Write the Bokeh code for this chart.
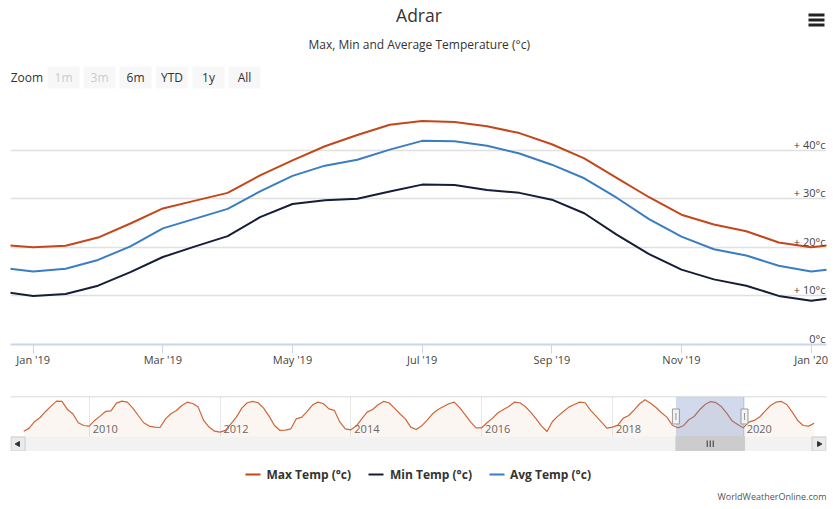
from math import pi
from bokeh.plotting import figure
from bokeh.models import Range1d, FixedTicker, Grid, Span
from bokeh.layouts import column
from bokeh.core.properties import value
from bokeh.embed import file_html
from bokeh.resources import INLINE

# ---------------- data ----------------
# Half-monthly readings of the smoothed curves (Highcharts ordinal axis: 1 unit = 1 month)
periods = ["2018-12-16", "2019-01-01", "2019-01-16", "2019-02-01", "2019-02-15",
           "2019-03-01", "2019-03-16", "2019-04-01", "2019-04-16", "2019-05-01",
           "2019-05-16", "2019-06-01", "2019-06-16", "2019-07-01", "2019-07-16",
           "2019-08-01", "2019-08-16", "2019-09-01", "2019-09-16", "2019-10-01",
           "2019-10-16", "2019-11-01", "2019-11-16", "2019-12-01", "2019-12-16",
           "2020-01-01", "2020-01-16"]
max_temp = [20.5, 20.0, 20.3, 22.0, 24.9, 28.0, 29.6, 31.2, 34.8, 37.9, 40.8, 43.1,
            45.2, 46.0, 45.8, 44.9, 43.5, 41.2, 38.3, 34.3, 30.3, 26.7, 24.7, 23.3,
            21.0, 20.0, 20.8]
min_temp = [10.9, 10.0, 10.4, 12.1, 14.9, 18.0, 20.2, 22.3, 26.2, 28.9, 29.7, 30.0,
            31.5, 32.9, 32.8, 31.8, 31.2, 29.8, 27.0, 22.6, 18.6, 15.4, 13.4, 12.1,
            10.0, 9.0, 9.8]
avg_temp = [15.8, 15.0, 15.6, 17.4, 20.2, 23.9, 25.9, 27.9, 31.5, 34.7, 36.8, 38.0,
            40.1, 41.9, 41.8, 40.9, 39.3, 37.0, 34.2, 30.2, 25.8, 22.2, 19.6, 18.3,
            16.2, 15.0, 15.8]

x_tick_months = ["2019-01", "2019-03", "2019-05", "2019-07", "2019-09", "2019-11", "2020-01"]
x_tick_labels = ["Jan '19", "Mar '19", "May '19", "Jul '19", "Sep '19", "Nov '19", "Jan '20"]
y_tick_values = [0, 10, 20, 30, 40]
y_tick_labels = ["0°c", "+ 10°c", "+ 20°c", "+ 30°c", "+ 40°c"]
y_grid_values = [10, 20, 30, 40, 50]

# Navigator: monthly max temperature, Jan 2009 .. Feb 2021
nav_first_month = "2009-01"
nav_max = [
    16.5, 19.7, 26.3, 30.2, 36.2, 41.5, 46.4, 46.1, 38.2, 33.9, 25.0, 22.3,   # 2009
    21.7, 27.3, 31.6, 36.2, 36.8, 44.4, 46.4, 45.4, 39.5, 32.2, 25.0, 21.7,   # 2010
    20.7, 20.3, 28.9, 33.9, 37.2, 42.1, 45.4, 44.1, 40.5, 27.3, 20.7, 16.7,   # 2011
    15.7, 17.4, 24.0, 30.6, 39.5, 44.8, 46.1, 44.8, 39.5, 31.6, 22.3, 17.4,   # 2012
    17.7, 19.0, 28.9, 30.6, 36.2, 42.8, 45.4, 43.8, 38.8, 37.2, 25.6, 19.0,   # 2013
    18.0, 21.7, 28.9, 35.5, 38.2, 42.8, 46.1, 44.8, 39.5, 33.9, 28.9, 20.7,   # 2014
    18.4, 22.0, 27.6, 33.9, 38.2, 41.1, 43.8, 45.4, 39.8, 32.9, 25.6, 20.0,   # 2015
    20.0, 25.0, 29.6, 34.9, 38.2, 41.1, 45.4, 44.8, 41.1, 35.5, 28.9, 21.7,   # 2016
    16.4, 26.3, 31.6, 36.2, 40.5, 43.1, 45.4, 44.8, 37.2, 31.6, 25.6, 19.7,   # 2017
    20.7, 22.6, 29.6, 32.2, 37.8, 43.8, 47.7, 44.4, 40.1, 34.9, 30.6, 22.5,   # 2018
    20.0, 22.0, 28.0, 31.2, 37.9, 43.1, 46.0, 44.9, 41.0, 34.3, 26.7, 23.3,   # 2019
    20.0, 25.6, 27.3, 30.6, 36.5, 42.1, 45.4, 46.1, 43.1, 35.5, 27.3, 22.3,   # 2020
    21.7, 24.5,                                                               # 2021
]
nav_year_labels = ["2010", "2012", "2014", "2016", "2018", "2020"]

legend_labels = ["Max Temp (°c)", "Min Temp (°c)", "Avg Temp (°c)"]
zoom_buttons = ["1m", "3m", "6m", "YTD", "1y", "All"]
zoom_enabled = [False, False, True, True, True, True]

# ---------------- helpers / style ----------------
FONT = "Open Sans"
W = 835
LEFT, RIGHT = 10, 826             # frame edges shared by all stacked figures
COL_MAX = "#c4461b"
COL_MIN = "#151d38"
COL_AVG = "#3b7dc2"
REF_YEAR = 2019


def month_index(s):
    parts = [int(v) for v in s.split("-")]
    idx = (parts[0] - REF_YEAR) * 12 + (parts[1] - 1)
    if len(parts) > 2 and parts[2] > 1:
        idx += 0.5
    return idx


xs = [month_index(s) for s in periods]
x_ticks = [int(month_index(m)) for m in x_tick_months]
nav_x0 = month_index(nav_first_month)
nav_x = [nav_x0 + i for i in range(len(nav_max))]
nav_year_pos = [month_index(y + "-01") for y in nav_year_labels]

VIEW = (-0.35, 12.237)            # visible window of the main chart
NAV_RANGE = (-122.44, 27.28)      # navigator window
NAV_LO, NAV_HI = 11.4, 51.0       # navigator value range (series area)
NAV_SERIES_PX, NAV_SCROLL_PX = 40, 15
NAV_FRAME_W = RIGHT - LEFT
nav_bottom = NAV_LO - NAV_SCROLL_PX / NAV_SERIES_PX * (NAV_HI - NAV_LO)


def pixel_fig(height):
    f = figure(width=W, height=height, x_range=Range1d(LEFT, RIGHT), y_range=Range1d(height, 0),
               toolbar_location=None, output_backend="svg",
               x_axis_location=None, y_axis_location=None,
               min_border_left=LEFT, min_border_right=W - RIGHT,
               min_border_top=0, min_border_bottom=0, outline_line_color=None)
    f.grid.visible = False
    return f

# ---------------- header ----------------
hdr = pixel_fig(100)
hdr.text(x=[418.5], y=[14], text=["Adrar"], text_align="center", text_baseline="middle",
         text_font=value(FONT), text_font_size="17.5px", text_color="#333333")
hdr.text(x=[418.7], y=[44], text=["Max, Min and Average Temperature (°c)"],
         text_align="center", text_baseline="middle",
         text_font=value(FONT), text_font_size="12px", text_color="#333333")
hdr.text(x=[10.2], y=[77], text=["Zoom"], text_align="left", text_baseline="middle",
         text_font=value(FONT), text_font_size="12px", text_color="#333333")
btn_x = [63, 99, 135, 171.5, 208, 244]
hdr.rect(x=btn_x, y=[77] * 6, width=32, height=22, fill_color="#f7f7f7", line_color=None)
hdr.text(x=btn_x, y=[77] * 6, text=zoom_buttons, text_align="center", text_baseline="middle",
         text_font=value(FONT), text_font_size="12px",
         text_color=["#333333" if e else "#cccccc" for e in zoom_enabled])
hdr.rect(x=[816] * 3, y=[14.5, 19.5, 24.5], width=16, height=3, fill_color="#222222", line_color=None)

# ---------------- main chart ----------------
p = figure(width=W, height=284, x_range=Range1d(*VIEW), y_range=Range1d(0, 50),
           toolbar_location=None, output_backend="svg",
           min_border_left=LEFT, min_border_right=W - RIGHT, min_border_top=1, min_border_bottom=40,
           outline_line_color=None)
p.yaxis.visible = False
p.yaxis.ticker = FixedTicker(ticks=y_grid_values)
p.xgrid.visible = False
p.ygrid.grid_line_color = "#e0e0e0"
p.ygrid.grid_line_width = 1.5
p.xaxis.ticker = FixedTicker(ticks=x_ticks)
p.xaxis.major_label_overrides = {t: l for t, l in zip(x_ticks, x_tick_labels)}
p.xaxis.axis_line_color = "#ccd6eb"
p.xaxis.axis_line_width = 2
p.xaxis.major_tick_line_color = "#ccd6eb"
p.xaxis.major_tick_in = 0
p.xaxis.major_tick_out = 9
p.xaxis.minor_tick_line_color = None
p.xaxis.major_label_standoff = -2
p.xaxis.major_label_text_font = FONT
p.xaxis.major_label_text_font_size = "11px"
p.xaxis.major_label_text_color = "#444444"

for series, col in ((max_temp, COL_MAX), (min_temp, COL_MIN), (avg_temp, COL_AVG)):
    p.line(xs, series, line_color=col, line_width=2, line_join="round", line_cap="round")
p.text(x=[VIEW[1]] * len(y_tick_values), y=y_tick_values, text=y_tick_labels,
       x_offset=-1, y_offset=-6, text_align="right", text_baseline="middle",
       text_font=value(FONT), text_font_size="11px", text_color="#444444")

# ---------------- navigator + scrollbar ----------------
nav = figure(width=W, height=12 + NAV_SERIES_PX + NAV_SCROLL_PX,
             x_range=Range1d(*NAV_RANGE), y_range=Range1d(nav_bottom, NAV_HI),
             extra_x_ranges={"pxx": Range1d(0, NAV_FRAME_W)},
             extra_y_ranges={"px": Range1d(NAV_SERIES_PX + NAV_SCROLL_PX, 0)},
             toolbar_location=None, output_backend="svg",
             min_border_left=LEFT, min_border_right=W - RIGHT, min_border_top=12, min_border_bottom=0,
             x_axis_location=None, y_axis_location=None, outline_line_color=None)
nav.grid.visible = False
nav.add_layout(Grid(dimension=0, ticker=FixedTicker(ticks=nav_year_pos),
                    grid_line_color="#e6e6e6", grid_line_width=1))
nav.varea(x=nav_x, y1=[NAV_LO] * len(nav_x), y2=nav_max, fill_color=COL_MAX, fill_alpha=0.05)
nav.line(nav_x, nav_max, line_color="#cf6636", line_width=1.2, line_join="round")
nav.text(x=nav_year_pos, y=[NAV_SERIES_PX - 8] * len(nav_year_pos), y_range_name="px",
         text=nav_year_labels, x_offset=3.5, text_align="left", text_baseline="middle",
         text_font=value(FONT), text_font_size="11px", text_color="#666666")
nav.quad(left=[VIEW[0]], right=[VIEW[1]], bottom=[NAV_SERIES_PX], top=[0], y_range_name="px",
         fill_color="#6685c2", fill_alpha=0.3, line_color=None)
nav.add_layout(Span(location=NAV_HI, dimension="width", line_color="#cccccc", line_width=1.5))

# scrollbar
sb_top, sb_bot = NAV_SERIES_PX, NAV_SERIES_PX + NAV_SCROLL_PX
nav.quad(left=[0], right=[NAV_FRAME_W], top=[sb_top], bottom=[sb_bot],
         x_range_name="pxx", y_range_name="px", fill_color="#f2f2f2", line_color=None)
nav.quad(left=[VIEW[0]], right=[VIEW[1]], top=[sb_top], bottom=[sb_bot], y_range_name="px",
         fill_color="#cccccc", line_color="#cccccc")
cpx = ((VIEW[0] + VIEW[1]) / 2 - NAV_RANGE[0]) / (NAV_RANGE[1] - NAV_RANGE[0]) * NAV_FRAME_W
nav.segment(x0=[cpx - 3, cpx, cpx + 3], x1=[cpx - 3, cpx, cpx + 3],
            y0=[sb_top + 4] * 3, y1=[sb_top + 10.5] * 3,
            x_range_name="pxx", y_range_name="px", line_color="#333333", line_width=1)
nav.quad(left=[0.5, NAV_FRAME_W - 14.5], right=[14.5, NAV_FRAME_W - 0.5],
         top=[sb_top + 0.5] * 2, bottom=[sb_bot - 0.5] * 2,
         x_range_name="pxx", y_range_name="px", fill_color="#ebebeb", line_color="#cccccc")
nav.scatter(x=[7.5, NAV_FRAME_W - 7.5], y=[sb_top + 7.5] * 2, marker="triangle", size=5,
            angle=[pi / 2, -pi / 2], x_range_name="pxx", y_range_name="px",
            fill_color="#333333", line_color="#333333")

# handles
nav.rect(x=list(VIEW), y=[NAV_SERIES_PX / 2] * 2, y_range_name="px", width=7, height=15,
         width_units="screen", height_units="screen", fill_color="#f2f2f2", line_color="#999999")
nav.scatter(x=list(VIEW), y=[NAV_SERIES_PX / 2] * 2, y_range_name="px", marker="dash", size=7,
            angle=pi / 2, line_color="#999999", line_width=1)

# ---------------- legend, credits ----------------
foot = pixel_fig(58)
leg_sym_x0 = [245, 368, 489]
leg_txt_x = [266, 389.5, 509.5]
foot.segment(x0=leg_sym_x0, x1=[v + 15 for v in leg_sym_x0], y0=[23] * 3, y1=[23] * 3,
             line_color=[COL_MAX, COL_MIN, COL_AVG], line_width=2)
foot.text(x=leg_txt_x, y=[23] * 3, text=legend_labels, text_align="left",
          text_baseline="middle", text_font=value(FONT), text_font_size="12px",
          text_font_style="bold", text_color="#333333")
foot.text(x=[826], y=[45], text=["WorldWeatherOnline.com"], text_align="right",
          text_baseline="middle", text_font=value(FONT), text_font_size="9px",
          text_color="#555555")

layout = column(hdr, p, nav, foot, spacing=0)
open("out.html", "w").write(file_html(layout, INLINE))
